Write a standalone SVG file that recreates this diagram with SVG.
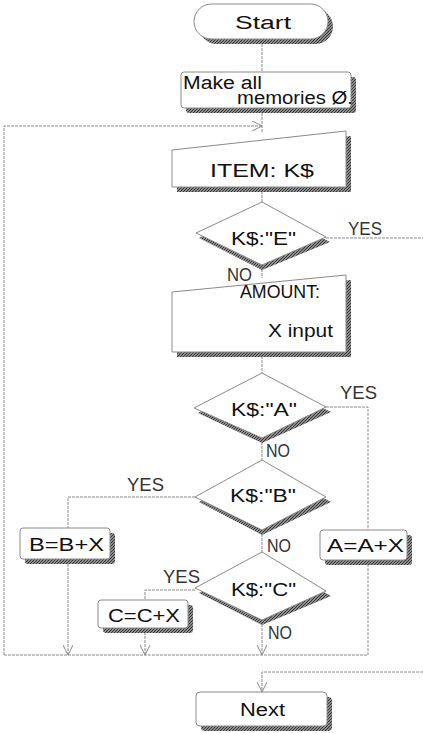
<svg xmlns="http://www.w3.org/2000/svg" width="423" height="733" viewBox="0 0 423 733">
<defs>
<marker id="arr" viewBox="0 0 10 10" refX="10" refY="5" markerWidth="10" markerHeight="10" orient="auto" markerUnits="userSpaceOnUse">
<path d="M0,0 L10,5 L0,10" fill="none" stroke="#888" stroke-width="1"/>
</marker>
<pattern id="hatch" width="3" height="3" patternUnits="userSpaceOnUse">
<rect width="3" height="3" fill="#8a8a8a"/>
<path d="M0,3 L3,0" stroke="#3a3a3a" stroke-width="1"/>
</pattern>
</defs>
<style>
.sh{fill:url(#hatch);stroke:none}
.bx{fill:#fff;stroke:#8a8a8a;stroke-width:1}
.t{font-family:"Liberation Sans","DejaVu Sans",sans-serif;fill:#111;font-size:18px}
.lb{font-family:"Liberation Sans","DejaVu Sans",sans-serif;fill:#333;font-size:18px}
.ln{fill:none;stroke:#8a8a8a;stroke-width:1;stroke-dasharray:3 1}
</style>
<g id="connectors">
<path class="ln" d="M262,40 V72"/>
<path class="ln" d="M262,109 V133"/>
<path class="ln" d="M4,655 V126 H262" marker-end="url(#arr)"/>
<path class="ln" d="M262,187 V202"/>
<path class="ln" d="M326,238 H423"/>
<path class="ln" d="M262,265 V278"/>
<path class="ln" d="M262,352 V373"/>
<path class="ln" d="M326,407 H368 V530"/>
<path class="ln" d="M262,438 V460"/>
<path class="ln" d="M195,497 H68 V528"/>
<path class="ln" d="M262,530 V552"/>
<path class="ln" d="M195,590 H145 V600"/>
<path class="ln" d="M68,560 V655" marker-end="url(#arr)"/>
<path class="ln" d="M145,628 V655" marker-end="url(#arr)"/>
<path class="ln" d="M262,620 V655" marker-end="url(#arr)"/>
<path class="ln" d="M368,560 V655 H4"/>
<path class="ln" d="M423,672 H262 V692" marker-end="url(#arr)"/>
<text class="lb" x="348" y="235" textLength="34" lengthAdjust="spacingAndGlyphs">YES</text>
<text class="lb" x="227" y="281" textLength="25" lengthAdjust="spacingAndGlyphs">NO</text>
<text class="lb" x="340" y="399" textLength="37" lengthAdjust="spacingAndGlyphs">YES</text>
<text class="lb" x="266" y="457" textLength="24" lengthAdjust="spacingAndGlyphs">NO</text>
<text class="lb" x="127" y="491" textLength="37" lengthAdjust="spacingAndGlyphs">YES</text>
<text class="lb" x="267" y="552" textLength="24" lengthAdjust="spacingAndGlyphs">NO</text>
<text class="lb" x="163" y="583" textLength="37" lengthAdjust="spacingAndGlyphs">YES</text>
<text class="lb" x="268" y="639" textLength="24" lengthAdjust="spacingAndGlyphs">NO</text>
</g>
<g id="start">
<rect class="sh" x="199" y="9" width="134" height="35" rx="17.5"/>
<rect class="bx" x="194" y="4" width="134" height="35" rx="17.5"/>
<text class="t" x="235" y="29" textLength="56" lengthAdjust="spacingAndGlyphs">Start</text>
</g>
<g id="init">
<rect class="sh" x="186" y="77" width="170" height="36" rx="3"/>
<rect class="bx" x="181" y="72" width="170" height="36" rx="3"/>
<text class="t" x="183" y="89" textLength="79" lengthAdjust="spacingAndGlyphs">Make all</text>
<text class="t" x="237" y="104" textLength="116" lengthAdjust="spacingAndGlyphs">memories Ø.</text>
</g>
<g id="item">
<polygon class="sh" points="177,155 351,136 351,192 177,192"/>
<polygon class="bx" points="172,150 346,131 346,187 172,187"/>
<text class="t" x="210" y="177" textLength="104" lengthAdjust="spacingAndGlyphs">ITEM:  K$</text>
</g>
<g id="decE">
<polygon class="sh" points="262,207 330,242 262,270 199,238"/>
<polygon class="bx" points="262,202 326,237 262,265 196,233"/>
<text class="t" x="231" y="245" textLength="65" lengthAdjust="spacingAndGlyphs">K$:"E"</text>
</g>
<g id="amount">
<polygon class="sh" points="177,297 351,280 351,357 177,357"/>
<polygon class="bx" points="172,292 346,275 346,352 172,352"/>
<text class="t" x="240" y="298" textLength="80" lengthAdjust="spacingAndGlyphs">AMOUNT:</text>
<text class="t" x="268" y="337" textLength="65" lengthAdjust="spacingAndGlyphs">X input</text>
</g>
<g id="decA">
<polygon class="sh" points="262,378 331,412 262,443 198,413"/>
<polygon class="bx" points="262,373 326,407 262,438 194,408"/>
<text class="t" x="231" y="416" textLength="66" lengthAdjust="spacingAndGlyphs">K$:"A"</text>
</g>
<g id="decB">
<polygon class="sh" points="262,465 331,502 262,535 199,502"/>
<polygon class="bx" points="262,460 326,497 262,530 195,497"/>
<text class="t" x="230" y="502" textLength="66" lengthAdjust="spacingAndGlyphs">K$:"B"</text>
</g>
<g id="decC">
<polygon class="sh" points="262,557 331,596 262,625 199,593"/>
<polygon class="bx" points="262,552 326,591 262,620 195,588"/>
<text class="t" x="231" y="596" textLength="65" lengthAdjust="spacingAndGlyphs">K$:"C"</text>
</g>
<g id="addB">
<rect class="sh" x="25" y="533" width="90" height="31" rx="3"/>
<rect class="bx" x="20" y="528" width="90" height="31" rx="3"/>
<text class="t" x="29" y="551" textLength="75" lengthAdjust="spacingAndGlyphs">B=B+X</text>
</g>
<g id="addA">
<rect class="sh" x="325" y="535" width="87" height="30" rx="3"/>
<rect class="bx" x="320" y="530" width="87" height="30" rx="3"/>
<text class="t" x="327" y="552" textLength="77" lengthAdjust="spacingAndGlyphs">A=A+X</text>
</g>
<g id="addC">
<rect class="sh" x="103" y="605" width="90" height="28" rx="3"/>
<rect class="bx" x="98" y="600" width="90" height="28" rx="3"/>
<text class="t" x="108" y="622" textLength="72" lengthAdjust="spacingAndGlyphs">C=C+X</text>
</g>
<g id="next">
<rect class="sh" x="201" y="697" width="131" height="34" rx="4"/>
<rect class="bx" x="196" y="692" width="131" height="34" rx="4"/>
<text class="t" x="240" y="716" textLength="45" lengthAdjust="spacingAndGlyphs">Next</text>
</g>
</svg>
